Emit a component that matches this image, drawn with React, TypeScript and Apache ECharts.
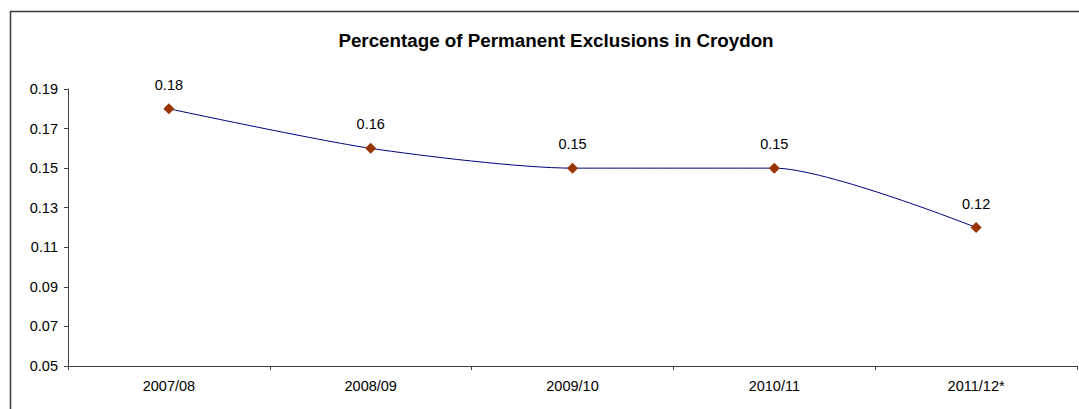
import React, { useEffect, useRef } from "react";
import * as echarts from "echarts";

const categories = ["2007/08", "2008/09", "2009/10", "2010/11", "2011/12*"];
const exclusionValues = [0.18, 0.16, 0.15, 0.15, 0.12];
const chartTitle = "Percentage of Permanent Exclusions in Croydon";

export default function App() {
  const ref = useRef<HTMLDivElement>(null);
  useEffect(() => {
    if (!ref.current) return;
    const chart = echarts.init(ref.current, null, { renderer: "svg" });
    const font = "'Liberation Sans', Arial, sans-serif";
    chart.setOption({
      animation: false,
      backgroundColor: "#ffffff",
      textStyle: { fontFamily: font },
      title: {
        text: chartTitle,
        left: 551,
        top: 26,
        textAlign: "center",
        textStyle: { fontFamily: font, fontSize: 18.8, fontWeight: "bold", color: "#000" },
      },
      graphic: [
        {
          type: "rect",
          shape: { x: 10.5, y: 11.5, width: 1100, height: 420 },
          style: { fill: "none", stroke: "#3a3a3a", lineWidth: 1.5 },
          z: 0,
        },
      ],
      grid: { left: 68, right: 2, top: 89, bottom: 43, containLabel: false },
      xAxis: {
        type: "category",
        data: categories,
        boundaryGap: true,
        axisLine: { lineStyle: { color: "#404040", width: 1 } },
        axisTick: { show: true, interval: 0, length: 4, lineStyle: { color: "#404040" } },
        axisLabel: { color: "#000", fontSize: 14.5, fontFamily: font, margin: 12, interval: 0 },
        splitLine: { show: false },
      },
      yAxis: {
        type: "value",
        min: 0.05,
        max: 0.19,
        interval: 0.02,
        axisLine: { show: true, lineStyle: { color: "#404040", width: 1 } },
        axisTick: { show: true, length: 4, lineStyle: { color: "#404040" } },
        axisLabel: {
          color: "#000",
          fontSize: 14.5,
          fontFamily: font,
          margin: 10,
          formatter: (v: number) => v.toFixed(2),
        },
        splitLine: { show: false },
      },
      series: [
        {
          type: "line",
          data: exclusionValues,
          smooth: 0.25,
          lineStyle: { color: "#000080", width: 1 },
          symbol: "diamond",
          symbolSize: 11,
          itemStyle: { color: "#993300" },
          label: {
            show: true,
            position: "top",
            distance: 11,
            color: "#000",
            fontSize: 14.5,
            fontFamily: font,
            formatter: (p: any) => Number(p.value).toFixed(2),
          },
        },
      ],
    });
    return () => chart.dispose();
  }, []);
  return (
    <div
      ref={ref}
      style={{ position: "fixed", left: 0, top: 0, width: 1079, height: 409 }}
    />
  );
}
